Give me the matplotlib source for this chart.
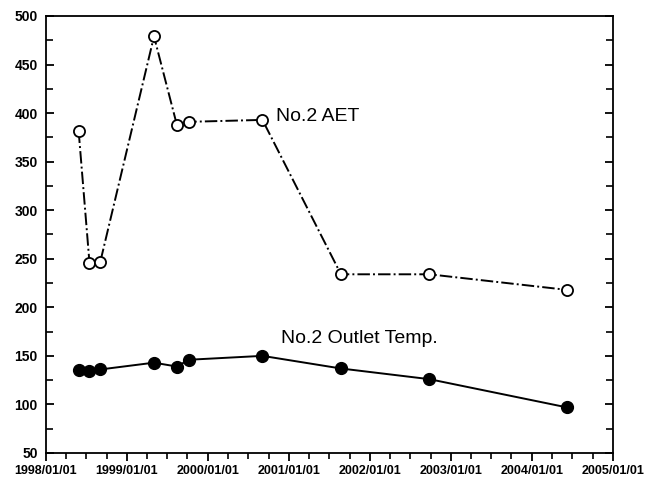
import numpy as np
import matplotlib
matplotlib.use("Agg")
import matplotlib.pyplot as plt
import matplotlib.dates as mdates
from matplotlib.ticker import MultipleLocator
from datetime import datetime

## Plot styling
matplotlib.rcParams["font.family"] = ["Liberation Sans", "DejaVu Sans"]
matplotlib.rcParams["axes.linewidth"] = 1.3

# sample dates and readings
dates = ["1998-05-28", "1998-07-16", "1998-09-03", "1999-05-03", "1999-08-14",
         "1999-10-07", "2000-09-03", "2001-08-23", "2002-09-26", "2004-06-06"]
aet = [382, 246, 247, 479, 388, 391, 393, 234, 234, 218]
outlet_temp = [135, 134, 136, 143, 139, 146, 150, 137, 126, 97]

year_ticks = [datetime(y, 1, 1) for y in range(1998, 2006)]

x = [datetime.strptime(d, "%Y-%m-%d") for d in dates]

fig = plt.figure(figsize=(6.47, 4.8), dpi=100)
ax = fig.add_axes([0.0711, 0.0563, 0.8764, 0.9104])

ax.plot(x, aet, color="black", linestyle="-.", linewidth=1.4,
        marker="o", markersize=8, markerfacecolor="white",
        markeredgecolor="black", markeredgewidth=1.3)
ax.plot(x, outlet_temp, color="black", linestyle="-", linewidth=1.4,
        marker="o", markersize=8.5, markerfacecolor="black",
        markeredgecolor="black")

ax.text(datetime(2000, 11, 5), 396, "No.2 AET", fontsize=14, va="center", ha="left")
ax.text(datetime(2000, 11, 25), 168, "No.2 Outlet Temp.", fontsize=14, va="center", ha="left")

ax.set_xlim(year_ticks[0], year_ticks[-1])
ax.set_ylim(50, 500)
ax.set_xticks(year_ticks)
ax.xaxis.set_major_formatter(mdates.DateFormatter("%Y/%m/%d"))
ax.xaxis.set_minor_locator(mdates.MonthLocator(bymonth=[4, 7, 10]))
ax.yaxis.set_major_locator(MultipleLocator(50))
ax.yaxis.set_minor_locator(MultipleLocator(25))

ax.tick_params(axis="x", which="major", direction="out", length=6, width=1.3,
               labelsize=9, pad=3)
ax.tick_params(axis="x", which="minor", direction="out", length=4, width=1.2)
ax.tick_params(axis="y", which="major", direction="in", length=6, width=1.3,
               labelsize=10, pad=6, right=True)
ax.tick_params(axis="y", which="minor", direction="in", length=5, width=1.2,
               right=True)
for lab in ax.get_xticklabels() + ax.get_yticklabels():
    lab.set_fontweight("bold")

plt.savefig("out.png", dpi=100)
